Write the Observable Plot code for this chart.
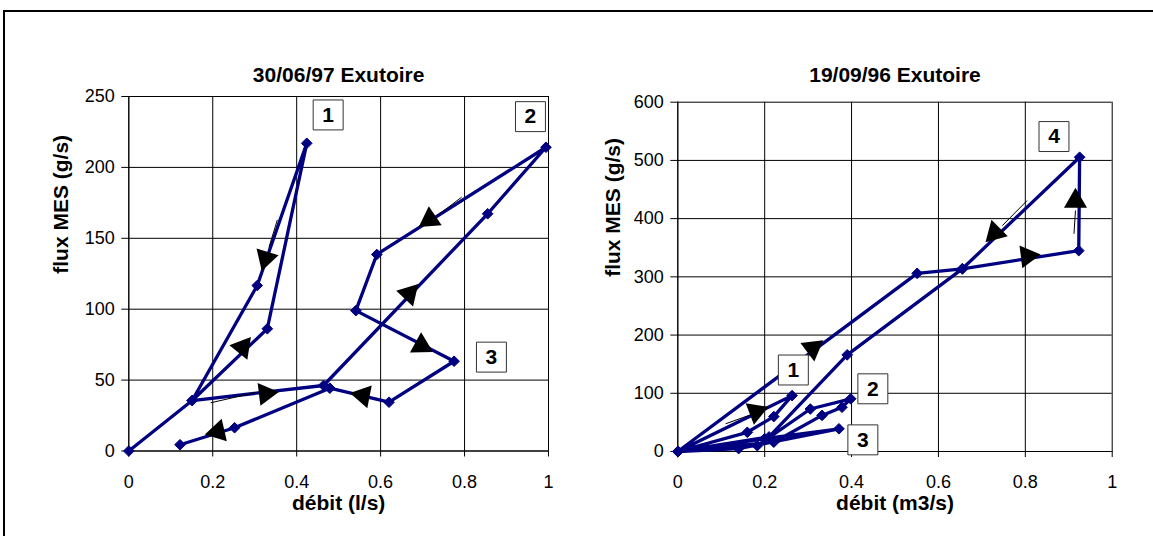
<!DOCTYPE html>
<html><head><meta charset="utf-8">
<script src="https://cdn.jsdelivr.net/npm/d3@7"></script>
<script src="https://cdn.jsdelivr.net/npm/@observablehq/plot@0.6"></script>
<style>
html,body{margin:0;padding:0;background:#fff;overflow:hidden;width:1153px;height:536px}
#frame{position:absolute;left:3px;top:10px;width:1200px;height:600px;border:2px solid #000;box-sizing:border-box}
#left{position:absolute;left:0;top:0}
#right{position:absolute;left:576px;top:0}
</style></head><body><div id="frame"></div><div id="left"></div><div id="right"></div>
<script>
// ---- Left chart : 30/06/97 Exutoire ----
const leftTitle = "30/06/97 Exutoire";
const leftXLabel = "débit (l/s)";
const leftYLabel = "flux MES (g/s)";
const leftXTicks = [0, 0.2, 0.4, 0.6, 0.8, 1];
const leftYTicks = [0, 50, 100, 150, 200, 250];
const leftQ    = [0, 0.151, 0.33, 0.424, 0.306, 0.151, 0.464, 0.855, 0.994, 0.591, 0.541, 0.775, 0.62, 0.479, 0.252, 0.122];
const leftFlux = [0, 35.6, 86.2, 217, 116.7, 35.6, 46.2, 167.3, 214.2, 138.6, 99, 63.3, 34.4, 44.3, 16.4, 4.4];
const leftArrowQ     = [0.326, 0.271, 0.326, 0.668, 0.717, 0.697, 0.558, 0.212];
const leftArrowFlux  = [136, 73.1, 40.5, 110.9, 163.3, 74.3, 39.1, 13.7];
const leftArrowAngle = [197, 39, 83, 43, 236, 119, 281, 257];
// thin arrow shafts (start -> end)
const leftShaftQ1 = [0.354, 0.195, 0.793];
const leftShaftF1 = [163, 34, 179];
const leftShaftQ2 = [0.334, 0.304, 0.735];
const leftShaftF2 = [143.7, 41.3, 166];
const leftLabelText = ["1", "2", "3"];
const leftLabelQ    = [0.475, 0.957, 0.864];
const leftLabelFlux = [237, 235.8, 66.2];

// ---- Right chart : 19/09/96 Exutoire ----
const rightTitle = "19/09/96 Exutoire";
const rightXLabel = "débit (m3/s)";
const rightYLabel = "flux MES (g/s)";
const rightXTicks = [0, 0.2, 0.4, 0.6, 0.8, 1];
const rightYTicks = [0, 100, 200, 300, 400, 500, 600];
const rightQ    = [0, 0.263, 0.221, 0.16, 0,  0.183, 0.305, 0.398, 0.378, 0.332, 0.221, 0,  0.14, 0.371, 0.2, 0,  0.551, 0.655, 0.923, 0.925, 0.655, 0.39, 0.21, 0];
const rightFlux = [0, 96, 60, 33, 0,  10, 73, 90.5, 76, 62, 16, 0,  5, 39, 22, 0,  306, 313.8, 345, 505.5, 313.8, 166, 25, 0];
const rightArrowQ     = [0.9155, 0.730, 0.805, 0.3105, 0.18];
const rightArrowFlux  = [430, 375.8, 335.8, 177.3, 68.5];
const rightArrowAngle = [0, 225, 83, 53, 69];
const rightShaftQ1 = [0.912, 0.804, 0.11];
const rightShaftF1 = [374, 431, 47.6];
const rightShaftQ2 = [0.9155, 0.747, 0.163];
const rightShaftF2 = [414, 388, 61.8];
const rightLabelText = ["4", "1", "2", "3"];
const rightLabelQ    = [0.866, 0.266, 0.449, 0.426];
const rightLabelFlux = [541, 140, 107.7, 20];

const FONT = "'Liberation Sans', Arial, Helvetica, sans-serif";
const NAVY = "#000080";

function chart(o) {
  const idx = d3.range(o.q.length);
  const aIdx = d3.range(o.aq.length);
  const sIdx = d3.range(o.sq1.length);
  const lIdx = d3.range(o.lt.length);
  return Plot.plot({
    width: o.width, height: 536,
    marginLeft: o.ml, marginRight: o.mr, marginTop: o.mt, marginBottom: o.mb,
    style: {fontFamily: FONT, fontSize: "18px", color: "#000", background: "transparent", overflow: "visible"},
    x: {domain: [0, 1], ticks: o.xt, tickFormat: d => String(d), tickSize: 6, tickPadding: 18, label: null, line: true},
    y: {domain: o.yd, ticks: o.yt, tickFormat: d => String(d), tickSize: 7, tickPadding: 7, label: null, line: true},
    marks: [
      Plot.ruleX(o.xt, {stroke: "#000", strokeWidth: 1}),
      Plot.ruleY(o.yt, {stroke: "#000", strokeWidth: 1}),
      Plot.line(idx, {x: i => o.q[i], y: i => o.f[i], stroke: NAVY, strokeWidth: 3.3, strokeLinejoin: "round"}),
      Plot.dot(idx, {x: i => o.q[i], y: i => o.f[i], symbol: "diamond2", r: 4.8, fill: NAVY, stroke: NAVY, strokeWidth: 1}),
      Plot.link(sIdx, {x1: i => o.sq1[i], y1: i => o.sf1[i], x2: i => o.sq2[i], y2: i => o.sf2[i], stroke: "#000", strokeWidth: 1}),
      Plot.dot(aIdx, {x: i => o.aq[i], y: i => o.af[i], rotate: i => o.aa[i], symbol: "triangle2", r: 11, fill: "#000", stroke: "none"}),
      Plot.dot(lIdx, {x: i => o.lq[i], y: i => o.lf[i], symbol: "square", r: 16.9, fill: "#fff", stroke: "#333", strokeWidth: 1}),
      Plot.text(lIdx, {x: i => o.lq[i], y: i => o.lf[i], text: i => o.lt[i], fontWeight: "bold", fontSize: 21, fill: "#000"}),
      Plot.text([o.title], {frameAnchor: "top", dy: o.tdy, fontWeight: "bold", fontSize: 21, fill: "#000"}),
      Plot.text([o.xl], {frameAnchor: "bottom", dy: o.xdy, fontWeight: "bold", fontSize: 21, fill: "#000"}),
      Plot.text([o.yl], {frameAnchor: "left", dx: o.ydx, rotate: -90, fontWeight: "bold", fontSize: 21, fill: "#000"})
    ]
  });
}

document.getElementById("left").append(chart({
  width: 576, ml: 128.3, mr: 28, mt: 96, mb: 85.5,
  xt: leftXTicks, yt: leftYTicks, yd: [0, 250],
  q: leftQ, f: leftFlux, aq: leftArrowQ, af: leftArrowFlux, aa: leftArrowAngle,
  sq1: leftShaftQ1, sf1: leftShaftF1, sq2: leftShaftQ2, sf2: leftShaftF2,
  lt: leftLabelText, lq: leftLabelQ, lf: leftLabelFlux,
  title: leftTitle, xl: leftXLabel, yl: leftYLabel, tdy: -29, xdy: 59, ydx: -68
}));
document.getElementById("right").append(chart({
  width: 577, ml: 101.3, mr: 41.3, mt: 101.7, mb: 85,
  xt: rightXTicks, yt: rightYTicks, yd: [0, 600],
  q: rightQ, f: rightFlux, aq: rightArrowQ, af: rightArrowFlux, aa: rightArrowAngle,
  sq1: rightShaftQ1, sf1: rightShaftF1, sq2: rightShaftQ2, sf2: rightShaftF2,
  lt: rightLabelText, lq: rightLabelQ, lf: rightLabelFlux,
  title: rightTitle, xl: rightXLabel, yl: rightYLabel, tdy: -35, xdy: 58.5, ydx: -65
}));
</script></body></html>
